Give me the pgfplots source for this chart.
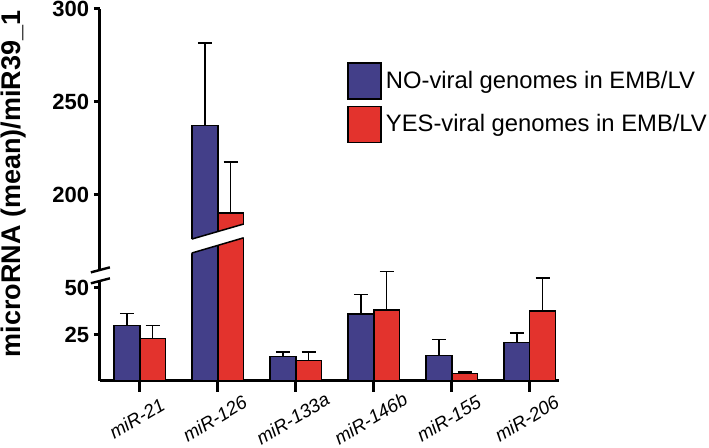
\documentclass[border=0pt]{standalone}
\usepackage{pgfplots}
\pgfplotsset{compat=1.18}
\usepackage{fontspec}
\setmainfont{Liberation Sans}
\definecolor{barblue}{RGB}{67,63,137}
\definecolor{barred}{RGB}{227,51,45}
\begin{document}
\begin{tikzpicture}
\path[use as bounding box] (-50pt,-33.5pt) rectangle (304.5pt,190.5pt);
\begin{axis}[
  scale only axis, width=229.3pt, height=186pt,
  xmin=-0.51, xmax=5.37, ymin=0, ymax=300,
  y coord trafo/.code={\pgfmathparse{#1>100?#1-100:#1}},
  axis x line*=bottom, axis y line*=left,
  axis line style={-, line width=1.5pt},
  tick align=outside,
  xtick={0,1,2,3,4,5},
  xticklabels={miR-21,miR-126,miR-133a,miR-146b,miR-155,miR-206},
  ytick={25,50,200,250,300},
  yticklabels={25,50,200,250,300},
  /pgf/number format/assume math mode=true,
  xtick style={line width=1.5pt, black, /pgfplots/major tick length=5.5pt},
  ytick style={line width=1.5pt, black, /pgfplots/major tick length=3pt},
  yticklabel style={font=\bfseries\fontsize{11}{13}\selectfont, inner sep=1pt},
  xticklabel style={xshift=-1.5pt, yshift=-14.5pt, rotate=31, anchor=center, font=\itshape\fontsize{9.4}{11}\selectfont},
  ylabel={microRNA (mean)/miR39\_1},
  ylabel style={at={(axis description cs:-0.1875,0.53)}, anchor=center, rotate=0, font=\bfseries\fontsize{13.5}{15}\selectfont},
  ybar, bar width=0.33,
  legend style={at={(axis description cs:0.5386,0.8575)}, anchor=north west, draw=none, fill=none, inner sep=0pt, row sep=3pt, font=\fontsize{11.9}{13}\selectfont},
  legend cell align=left,
  legend image code/.code={\draw[#1, line width=0.75pt] (0pt,-9pt) rectangle (16.5pt,9pt);},
  clip=false,
]
\addplot[fill=barblue, draw=black, line width=0.75pt, bar shift=-0.165,
  error bars/.cd, y dir=plus, y explicit,
  error bar style={line width=0.75pt, black},
  error mark options={rotate=90, mark size=3.5pt, line width=0.75pt, black}]
  coordinates {(0,29.8) +- (0,6.4) (1,237.3) +- (0,44.3) (2,13.3) +- (0,2.3)
               (3,36.0) +- (0,10.6) (4,13.8) +- (0,8.4) (5,20.6) +- (0,5.3)};
\addplot[fill=barred, draw=black, line width=0.75pt, bar shift=0.165,
  error bars/.cd, y dir=plus, y explicit,
  error bar style={line width=0.75pt, black},
  error mark options={rotate=90, mark size=3.5pt, line width=0.75pt, black}]
  coordinates {(0,22.9) +- (0,6.9) (1,190.3) +- (0,27.5) (2,11.0) +- (0,4.6)
               (3,38.1) +- (0,20.9) (4,3.9) +- (0,0.9) (5,37.6) +- (0,17.9)};
\legend{NO-viral genomes in EMB/LV, YES-viral genomes in EMB/LV}
% bar break band
\coordinate (bb1) at (axis cs:0.64,68.47);
\coordinate (bb2) at (axis cs:1.36,77.33);
\coordinate (bb3) at (axis cs:1.36,84.73);
\coordinate (bb4) at (axis cs:0.64,75.97);
\coordinate (bl1) at (axis cs:0.667,68.8);
\coordinate (bl2) at (axis cs:1.333,77.0);
\coordinate (bu1) at (axis cs:0.667,76.3);
\coordinate (bu2) at (axis cs:1.333,84.4);
% axis break
\coordinate (ag1) at (axis cs:-0.57,54.3);
\coordinate (ag2) at (axis cs:-0.45,59.4);
\coordinate (as1a) at (axis cs:-0.627,58.4);
\coordinate (as1b) at (axis cs:-0.383,61.1);
\coordinate (as2a) at (axis cs:-0.627,52.5);
\coordinate (as2b) at (axis cs:-0.383,55.2);
\end{axis}
\fill[white] (bb1) -- (bb2) -- (bb3) -- (bb4) -- cycle;
\draw[line width=0.75pt] (bl1) -- (bl2);
\draw[line width=0.75pt] (bu1) -- (bu2);
\fill[white] (ag1) rectangle (ag2);
\draw[line width=1.2pt] (as1a) -- (as1b);
\draw[line width=1.2pt] (as2a) -- (as2b);
\end{tikzpicture}
\end{document}
